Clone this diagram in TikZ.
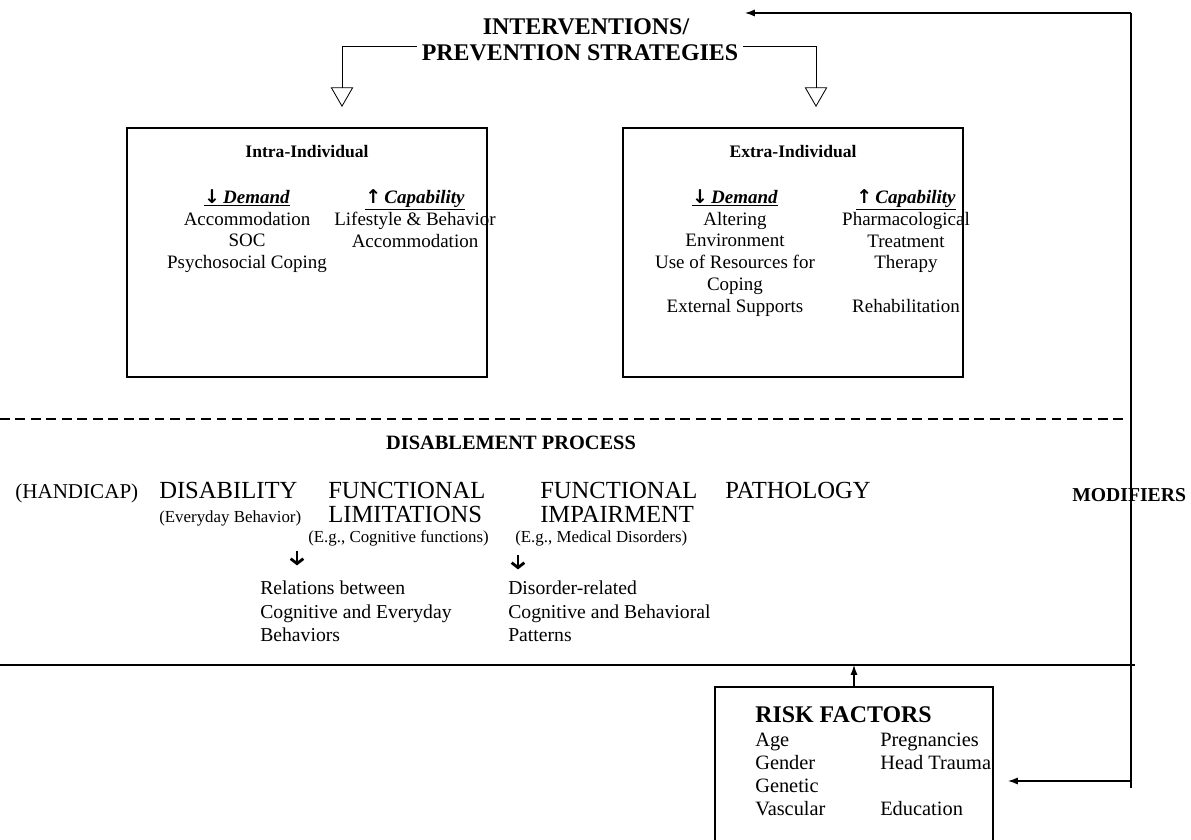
\documentclass[tikz,border=0pt]{standalone}
\usepackage{fontspec}
\setmainfont{Liberation Serif}
\newfontfamily\arrowfont{DejaVu Sans}
\usetikzlibrary{arrows.meta,positioning}

\newcommand{\dn}{{\arrowfont\bfseries\fontsize{13.5}{13.5}\selectfont ↓}}
\newcommand{\upw}{{\arrowfont\bfseries\fontsize{13.5}{13.5}\selectfont ↑}}

\tikzset{
  head/.style={font=\bfseries\fontsize{17}{25}\selectfont},
  boxhead/.style={font=\bfseries\fontsize{12.5}{15}\selectfont},
  item/.style={font=\fontsize{13.5}{15.6}\selectfont, align=center, anchor=north, inner sep=0pt},
  stage/.style={font=\fontsize{17.5}{17}\selectfont, anchor=base west, inner sep=0pt},
  note/.style={font=\fontsize{12}{14}\selectfont, anchor=base west, inner sep=0pt},
  link/.style={font=\fontsize{14}{16.5}\selectfont, align=left, anchor=north west, inner sep=0pt},
  riskitem/.style={font=\fontsize{14.5}{16.4}\selectfont, align=left, anchor=north west, inner sep=0pt},
  panel/.style={draw=black, line width=0.8pt, inner sep=0pt},
  hollow/.style={black, line width=0.6pt, -{Triangle[open,length=14pt,width=16pt]}},
  feed/.style={black, line width=0.8pt, -{Latex[length=7pt,width=5pt]}},
  heavy/.style={black, line width=2pt, -{Straight Barb[length=3.5pt,width=9pt,line width=2pt]}}
}

\begin{document}
\begin{tikzpicture}
\useasboundingbox (0,0) rectangle (29.775,20.975);
\clip (0,0) rectangle (29.775,20.975);

\node[head] (interv) at (14.65,20.3) {INTERVENTIONS/};
\node[head] (prevent) at (14.5,19.65) {PREVENTION STRATEGIES};
\coordinate (tipL) at (8.55,18.3);
\coordinate (tipR) at (20.4,18.3);
\draw[hollow] ([yshift=0.175cm]prevent.west) -| (tipL);
\draw[hollow] ([yshift=0.175cm]prevent.east) -| (tipR);

\node[panel, minimum width=9cm, minimum height=6.225cm] (intra) at (7.675,14.6625) {};
\node[panel, minimum width=8.5cm, minimum height=6.225cm] (extra) at (19.825,14.6625) {};
\node[boxhead] (intrahead) at ([yshift=-0.6cm]intra.north) {Intra-Individual};
\node[boxhead] (extrahead) at ([yshift=-0.6cm]extra.north) {Extra-Individual};
\node[item] (intradem) at (6.175,16.25) {\underline{\dn\,\textbf{\textit{Demand}}}\\Accommodation\\SOC\\Psychosocial Coping};
\node[item] (intracap) at (10.375,16.25) {\underline{\upw\,\textbf{\textit{Capability}}}\\Lifestyle \& Behavior\\Accommodation};
\node[item] (extradem) at (18.375,16.25) {\underline{\dn\,\textbf{\textit{Demand}}}\\Altering\\Environment\\Use of Resources for\\Coping\\External Supports};
\node[item] (extracap) at (22.65,16.25) {\underline{\upw\,\textbf{\textit{Capability}}}\\Pharmacological\\Treatment\\Therapy\\ \\Rehabilitation};

\coordinate (loopTop) at (28.275,20.65);
\coordinate (loopBot) at (28.275,1.275);
\coordinate (topTip) at (18.625,20.65);
\coordinate (riskTip) at (25.2,1.45);
\draw[feed] (loopTop) -- (topTip);
\draw[black, line width=0.8pt] (loopTop) -- (loopBot);
\draw[feed] (loopBot |- riskTip) -- (riskTip);

\draw[black, line width=0.9pt, dash pattern=on 7pt off 4pt] (0,10.5) -- (28.175,10.5);
\node[font=\bfseries\fontsize{14.5}{16}\selectfont] (disable) at (12.775,9.9) {DISABLEMENT PROCESS};

\node[stage, font=\fontsize{15}{16}\selectfont] (handicap) at (0.375,8.5) {(HANDICAP)};
\node[stage] (disab) at (3.975,8.5) {DISABILITY};
\node[note] (everyday) at (3.975,7.9) {(Everyday Behavior)};
\node[stage] (funclim) at (8.2,8.5) {FUNCTIONAL};
\node[stage] (limit) at (8.2,7.9) {LIMITATIONS};
\node[note] (cogfun) at (7.7,7.4) {(E.g., Cognitive functions)};
\node[stage] (funcimp) at (13.5,8.5) {FUNCTIONAL};
\node[stage] (impair) at (13.5,7.9) {IMPAIRMENT};
\node[note] (medical) at (12.875,7.4) {(E.g., Medical Disorders)};
\node[stage] (patho) at (18.125,8.5) {PATHOLOGY};
\node[font=\bfseries\fontsize{14}{16}\selectfont, anchor=west, inner sep=0pt] (modif) at (26.8,8.6) {MODIFIERS};

\coordinate (downA) at (7.425,7.2);
\coordinate (downB) at (12.95,7.1);
\draw[heavy] (downA) -- ++(0,-0.36);
\draw[heavy] (downB) -- ++(0,-0.36);
\node[link] (relat) at (6.5,6.45) {Relations between\\Cognitive and Everyday\\Behaviors};
\node[link] (disord) at (12.7,6.45) {Disorder-related\\Cognitive and Behavioral\\Patterns};

\coordinate (lineL) at (0,4.35);
\coordinate (lineR) at (28.375,4.35);
\draw[black, line width=0.9pt] (lineL) -- (lineR);

\node[panel, minimum width=6.95cm, minimum height=4.3cm] (risk) at (21.35,1.65) {};
\draw[feed] (risk.north) -- (risk.north |- lineL);
\node[font=\bfseries\fontsize{17}{19}\selectfont, anchor=west, inner sep=0pt] (riskhead) at (18.875,3.1) {RISK FACTORS};
\node[riskitem] (riskA) at (18.875,2.65) {Age\\Gender\\Genetic\\Vascular};
\node[riskitem] (riskB) at (22.0,2.65) {Pregnancies\\Head Trauma\\ \\Education};
\end{tikzpicture}
\end{document}
